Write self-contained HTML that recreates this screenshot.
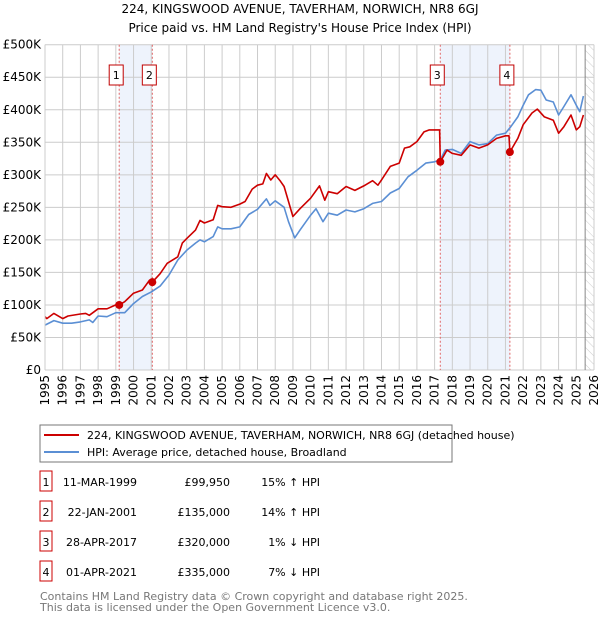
<!DOCTYPE html>
<html><head><meta charset="utf-8"><style>
body{margin:0;background:#fff;font-family:"DejaVu Sans","Liberation Sans",sans-serif;}
svg text{font-family:"DejaVu Sans","Liberation Sans",sans-serif;}
</style></head><body>
<svg id="c" width="600" height="620" xmlns="http://www.w3.org/2000/svg">
<text x="300" y="13" font-size="12" text-anchor="middle">224, KINGSWOOD AVENUE, TAVERHAM, NORWICH, NR8 6GJ</text>
<text x="300" y="32" font-size="12" text-anchor="middle">Price paid vs. HM Land Registry's House Price Index (HPI)</text>
<defs><pattern id="hatch" width="6" height="6" patternUnits="userSpaceOnUse" patternTransform="rotate(-45)"><line x1="0" y1="0" x2="0" y2="6" stroke="#ccc" stroke-width="1"/></pattern></defs>
<g id="grid"></g><g id="marks"></g><g id="axes"></g>
<rect x="40" y="425" width="412" height="37" fill="#fff" stroke="#777"/>
<line x1="44" y1="435" x2="79" y2="435" stroke="#cc0000" stroke-width="2"/>
<text x="87" y="439" font-size="11">224, KINGSWOOD AVENUE, TAVERHAM, NORWICH, NR8 6GJ (detached house)</text>
<line x1="44" y1="452" x2="79" y2="452" stroke="#5b8fd4" stroke-width="2"/>
<text x="87" y="456" font-size="11">HPI: Average price, detached house, Broadland</text>
<g id="table" font-size="11"></g>
<text x="40" y="600" font-size="11" fill="#777">Contains HM Land Registry data © Crown copyright and database right 2025.</text>
<text x="40" y="611" font-size="11" fill="#777">This data is licensed under the Open Government Licence v3.0.</text>
</svg>
<script>
const hpiYears=[1995,1995.5,1996,1996.5,1997,1997.5,1997.7,1998,1998.5,1999,1999.5,2000,2000.5,2001,2001.5,2002,2002.5,2003,2003.5,2003.75,2004,2004.5,2004.75,2005,2005.5,2006,2006.5,2007,2007.5,2007.7,2008,2008.5,2008.75,2009.1,2009.4,2010,2010.3,2010.7,2011,2011.5,2012,2012.5,2013,2013.5,2014,2014.5,2015,2015.5,2016,2016.5,2017,2017.32,2017.6,2018,2018.5,2019,2019.5,2020,2020.5,2021,2021.3,2021.7,2022,2022.3,2022.7,2023,2023.3,2023.7,2024,2024.3,2024.7,2025,2025.2,2025.4];
const hpiValues=[69,76,72,72,74,77,73,83,82,88,88,102,113,120,129,146,169,184,195,200,197,205,220,217,217,220,239,247,263,253,260,250,228,203,215,238,248,228,241,238,246,243,248,256,259,272,279,297,307,318,320,323,338,339,333,351,346,348,361,364,374,389,407,423,431,430,415,412,392,405,423,407,397,421];
const priceYears=[1995,1995.1,1995.5,1996,1996.3,1997,1997.3,1997.5,1998,1998.5,1999,1999.19,1999.5,2000,2000.5,2000.9,2001.06,2001.5,2001.9,2002.5,2002.75,2003,2003.5,2003.75,2004,2004.5,2004.75,2005,2005.5,2006,2006.3,2006.7,2007,2007.3,2007.5,2007.75,2008,2008.3,2008.5,2008.75,2009,2009.4,2010,2010.5,2010.8,2011,2011.5,2012,2012.5,2013,2013.5,2013.8,2014,2014.5,2015,2015.3,2015.6,2016,2016.4,2016.7,2017.28,2017.32,2017.7,2018,2018.5,2019,2019.5,2020,2020.5,2021,2021.2,2021.25,2021.7,2022,2022.5,2022.8,2023.2,2023.7,2024,2024.3,2024.7,2025,2025.2,2025.4];
const priceValues=[82,79,87,79,83,86,87,84,94,94,100,99.95,105,118,123,138,135,148,164,174,195,202,215,230,226,231,253,251,250,255,259,278,284,286,302,292,300,290,282,259,236,248,264,283,261,274,271,282,276,283,291,284,292,313,318,341,343,351,366,369,369,320,338,333,330,346,341,346,356,360,360,335,356,377,395,401,389,384,364,374,392,369,374,392];
const saleLabels=["1","2","3","4"];
const saleYears=[1999.19,2001.06,2017.32,2021.25];
const saleValues=[99.95,135,320,335];
const saleDates=["11-MAR-1999","22-JAN-2001","28-APR-2017","01-APR-2021"];
const salePrices=["£99,950","£135,000","£320,000","£335,000"];
const saleDiffs=["15% ↑ HPI","14% ↑ HPI","1% ↓ HPI","7% ↓ HPI"];
const yTicks=[0,50,100,150,200,250,300,350,400,450,500];
const yTickLabels=["£0","£50K","£100K","£150K","£200K","£250K","£300K","£350K","£400K","£450K","£500K"];
const xTicks=[1995,1996,1997,1998,1999,2000,2001,2002,2003,2004,2005,2006,2007,2008,2009,2010,2011,2012,2013,2014,2015,2016,2017,2018,2019,2020,2021,2022,2023,2024,2025,2026];

const X0=45,X1=594,Y0=370,Y1=44.7;
const xs=y=>X0+(y-1995)/(2026-1995)*(X1-X0);
const ys=v=>Y0-v/500*(Y0-Y1);
const NS="http://www.w3.org/2000/svg";
function mk(parent,tag,attrs){const e=document.createElementNS(NS,tag);for(const k in attrs)e.setAttribute(k,attrs[k]);document.getElementById(parent).appendChild(e);return e;}

let s=mk('grid','rect',{x:xs(saleYears[0]),y:Y1,width:xs(saleYears[1])-xs(saleYears[0]),height:Y0-Y1,fill:'#eef3fc'});


s=mk('grid','rect',{x:xs(saleYears[2]),y:Y1,width:xs(saleYears[3])-xs(saleYears[2]),height:Y0-Y1,fill:'#eef3fc'});


const hx=xs(2025.5);
s=mk('grid','rect',{x:hx,y:Y1,width:X1-hx,height:Y0-Y1,fill:'url(#hatch)'});


yTicks.forEach((v,i)=>{
  const l=mk('grid','line',{x1:X0,x2:X1,y1:ys(v),y2:ys(v),stroke:'#ccc','stroke-width':1});
  
  
  const t=mk('axes','text',{x:X0-4,y:ys(v)+4,'font-size':12,'text-anchor':'end'});
  t.textContent=yTickLabels[i];
  
  
});
xTicks.forEach(y=>{
  const l=mk('grid','line',{x1:xs(y),x2:xs(y),y1:Y1,y2:Y0,stroke:'#ccc','stroke-width':1});
  
  
  const t=mk('axes','text',{x:0,y:0,'font-size':12,'text-anchor':'end',transform:`translate(${xs(y)+4},${Y0+5}) rotate(-90)`});
  t.textContent=y;
  
  
});
let l=mk('grid','line',{x1:hx,x2:hx,y1:Y1,y2:Y0,stroke:'#888','stroke-width':1});


saleYears.forEach((y,i)=>{
  const d=mk('marks','line',{x1:xs(y),x2:xs(y),y1:Y1,y2:Y0,stroke:'#e06666','stroke-width':1,'stroke-dasharray':'2,2'});
  
  
});
function path(xa,va,col,name){
  const p=mk('marks','path',{d:xa.map((y,i)=>(i?'L':'M')+xs(y).toFixed(1)+','+ys(va[i]).toFixed(1)).join(''),fill:'none',stroke:col,'stroke-width':1.6,'stroke-linejoin':'round'});
  
  
}
path(hpiYears,hpiValues,'#5b8fd4','hpi-line');
path(priceYears,priceValues,'#cc0000','price-line');
saleYears.forEach((y,i)=>{
  const c=mk('marks','circle',{cx:xs(y),cy:ys(saleValues[i]),r:4,fill:'#cc0000'});
  
  
  const bx=xs(y)-10;
  const r=mk('marks','rect',{x:bx,y:65,width:14,height:20,fill:'#fff',stroke:'#c00000','stroke-width':1});
  
  
  const t=mk('marks','text',{x:bx+7,y:79,'font-size':11,'text-anchor':'middle'});
  t.textContent=saleLabels[i];
  
  
});
mk('axes','line',{x1:X0,x2:X0,y1:Y1,y2:Y0,stroke:'#ccc'});
saleYears.forEach((y,i)=>{
  const ty=483+i*30;
  const r=mk('table','rect',{x:40,y:ty-12,width:12,height:20,fill:'#fff',stroke:'#cc0000','stroke-width':1});
  
  
  const cells=[[46,saleLabels[i],'middle'],[137,saleDates[i],'end'],[230,salePrices[i],'end'],[320,saleDiffs[i],'end']];
  const names=['table-index','table-date','table-price','table-hpi-diff'];
  cells.forEach((c,j)=>{
    const t=mk('table','text',{x:c[0],y:ty+3,'text-anchor':c[2]});
    t.textContent=c[1];
    
    
  });
});
</script>
</body></html>
